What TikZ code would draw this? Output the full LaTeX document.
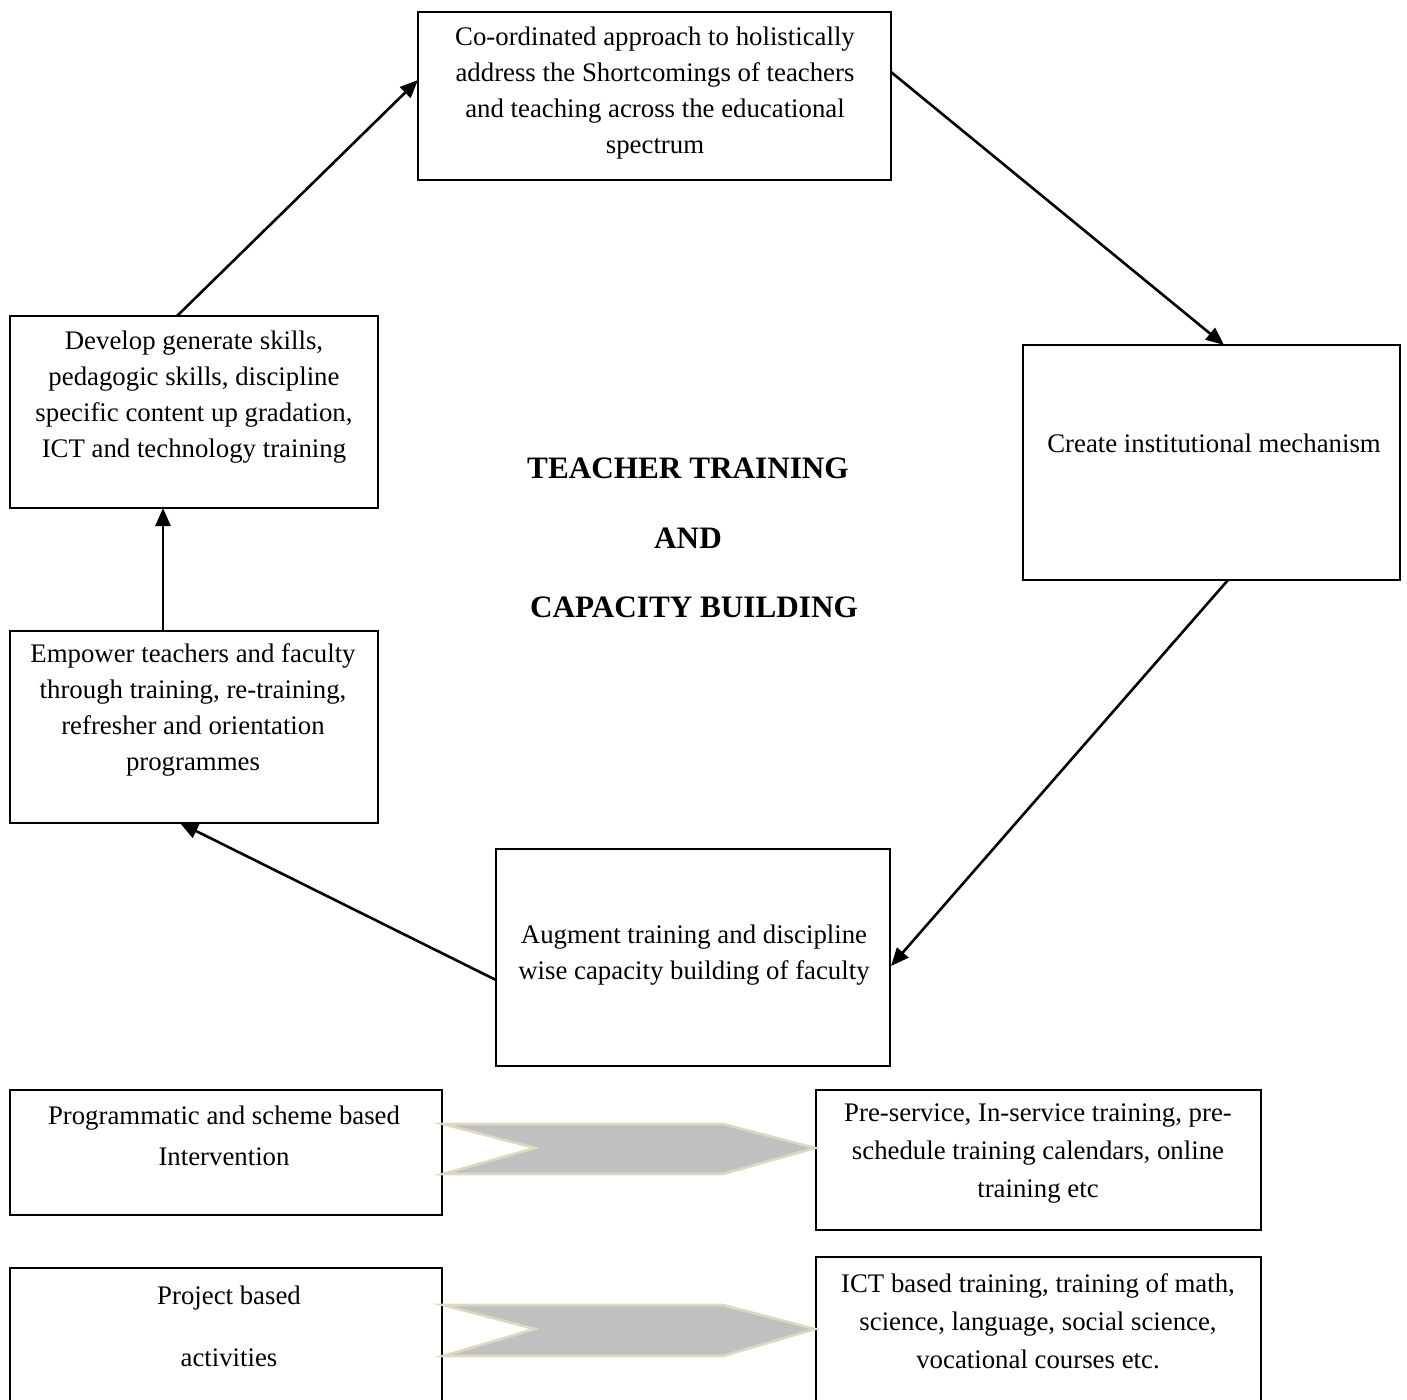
\documentclass[tikz,border=0pt]{standalone}
\usepackage{fontspec}
\setmainfont{Liberation Serif}
\usetikzlibrary{arrows.meta}
\begin{document}
\begin{tikzpicture}[x=0.5pt,y=-0.5pt,
  box/.style={draw=black,line width=1.1pt,inner sep=0pt},
  txt/.style={align=center,inner sep=0pt,font=\fontsize{13.4}{18}\selectfont},
  ttl/.style={align=center,inner sep=0pt,font=\fontsize{15.6}{18}\selectfont\bfseries},
  conn/.style={line width=1.3pt,-{Triangle[length=9pt,width=7.5pt]}},
  chev/.style={fill={rgb,255:red,192;green,192;blue,192},draw={rgb,255:red,221;green,216;blue,194},line width=1.3pt,line join=miter}]
\useasboundingbox (0,0) rectangle (1407,1399);
% boxes
\node[box,minimum width=236.5pt,minimum height=84pt] (top) at (654.5,96) {};
\node[box,minimum width=184pt,minimum height=96pt] (dev) at (194,412) {};
\node[box,minimum width=188.5pt,minimum height=117.5pt] (cre) at (1211.5,462.5) {};
\node[box,minimum width=184pt,minimum height=96pt] (emp) at (194,727) {};
\node[box,minimum width=197pt,minimum height=108.5pt] (aug) at (693,957.5) {};
\node[box,minimum width=216pt,minimum height=62.5pt] (prog) at (226,1152.5) {};
\node[box,minimum width=222.5pt,minimum height=70pt] (pre) at (1038.5,1160) {};
\node[box,minimum width=216pt,minimum height=68pt] (proj) at (226,1336) {};
\node[box,minimum width=222.5pt,minimum height=73pt] (ict) at (1038.5,1330) {};
% texts
\node[txt] (toptxt) at (655,93) {Co-ordinated approach to holistically\\address the Shortcomings of teachers\\and teaching across the educational\\spectrum};
\node[txt] (devtxt) at (194,397) {Develop generate skills,\\pedagogic skills, discipline\\specific content up gradation,\\ICT and technology training};
\node[txt] (cretxt) at (1214,443) {Create institutional mechanism};
\node[txt] (emptxt) at (193,710) {Empower teachers and faculty\\through training, re-training,\\refresher and orientation\\programmes};
\node[txt] (augtxt) at (694,955) {Augment training and discipline\\wise capacity building of faculty};
\node[txt,font=\fontsize{13.4}{20.5}\selectfont] (progtxt) at (224,1136) {Programmatic and scheme based\\Intervention};
\node[txt,font=\fontsize{13.4}{19}\selectfont] (pretxt) at (1038,1153) {Pre-service, In-service training, pre-\\schedule training calendars, online\\training etc};
\node[txt,font=\fontsize{13.4}{31}\selectfont] (projtxt) at (229,1326) {Project based\\activities};
\node[txt,font=\fontsize{13.4}{19}\selectfont] (icttxt) at (1038,1321) {ICT based training, training of math,\\science, language, social science,\\vocational courses etc.};
% title
\node[ttl] (t1) at (688,468) {TEACHER TRAINING};
\node[ttl] (t2) at (688,538) {AND};
\node[ttl] (t3) at (694,607) {CAPACITY BUILDING};
% connectors
\coordinate (a1s) at (177,316); \coordinate (a1e) at (418,80);
\coordinate (a2s) at (891,72);  \coordinate (a2e) at (1224,345);
\coordinate (a3s) at (1228,580); \coordinate (a3e) at (891,966);
\coordinate (a4s) at (496,980); \coordinate (a4e) at (180,823);
\coordinate (a5s) at (163,631); \coordinate (a5e) at (163,508);
\draw[conn] (a1s) -- (a1e);
\draw[conn] (a2s) -- (a2e);
\draw[conn] (a3s) -- (a3e);
\draw[conn] (a4s) -- (a4e);
\draw[conn] (a5s) -- (a5e);
% chevrons
\draw[chev] (443,1124) -- (723,1124) -- (815,1148) -- (723,1174) -- (443,1174) -- (535,1148) -- cycle;
\draw[chev] (443,1305) -- (723,1305) -- (815,1329) -- (723,1356) -- (443,1356) -- (535,1329) -- cycle;
\end{tikzpicture}
\end{document}
